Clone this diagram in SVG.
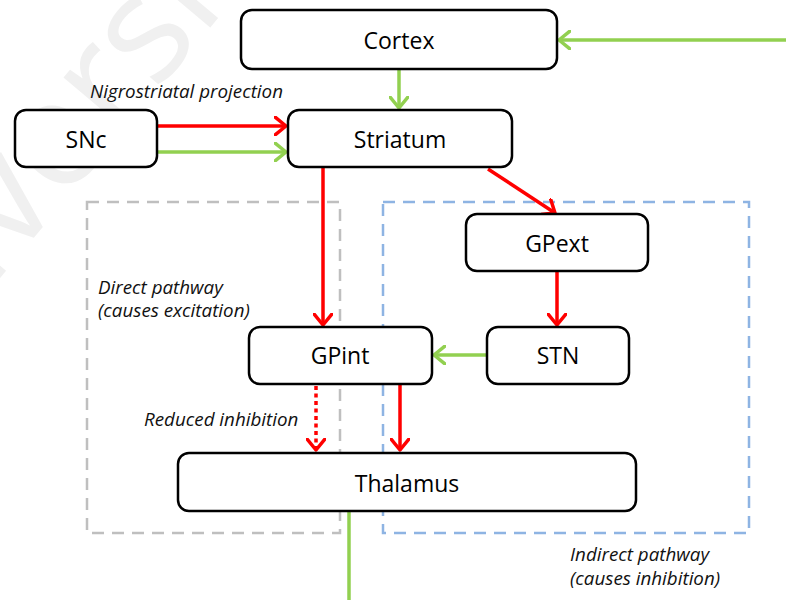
<svg xmlns="http://www.w3.org/2000/svg" width="786" height="600" viewBox="0 0 786 600">
<style>
.node rect{fill:#fff;stroke:#000;stroke-width:2.5}
.node text{font-family:"Open Sans","Noto Sans",sans-serif;font-size:23px;text-anchor:middle;fill:#000}
.lbl{font-family:"Open Sans","Noto Sans",sans-serif;font-size:18.8px;font-style:italic;fill:#111}
.r{stroke:#ff0000;stroke-width:3.5;fill:none}
.g{stroke:#92d050;stroke-width:3.5;fill:none}
.box{fill:none;stroke-width:2.5;stroke-dasharray:12 8}
</style>
<defs>
<marker id="ar" viewBox="0 0 14 20" refX="12" refY="10" markerWidth="14" markerHeight="20" markerUnits="userSpaceOnUse" orient="auto">
<path d="M1,1 L12,10 L1,19" fill="none" stroke="#ff0000" stroke-width="3.5" stroke-linecap="round" stroke-linejoin="round"/>
</marker>
<marker id="ag" viewBox="0 0 14 20" refX="12" refY="10" markerWidth="14" markerHeight="20" markerUnits="userSpaceOnUse" orient="auto">
<path d="M1,1 L12,10 L1,19" fill="none" stroke="#92d050" stroke-width="3.5" stroke-linecap="round" stroke-linejoin="round"/>
</marker>
</defs>
<rect width="786" height="600" fill="#fff"/>
<text x="-10" y="290" transform="rotate(-50 -10 290)" font-family="'Open Sans',sans-serif" font-size="150" fill="#f0f0f0">iversi</text>
<g id="regions">
<rect class="box" x="87" y="202" width="253" height="331" stroke="#bfbfbf"/>
<rect class="box" x="383" y="202" width="366" height="331" stroke="#8eb4e3"/>
</g>
<g id="connectors">
<line class="g" x1="786" y1="40" x2="559" y2="40" marker-end="url(#ag)"/>
<line class="g" x1="399" y1="69" x2="399" y2="108" marker-end="url(#ag)"/>
<line class="r" x1="158" y1="126" x2="286" y2="126" marker-end="url(#ar)"/>
<line class="g" x1="158" y1="152" x2="286" y2="152" marker-end="url(#ag)"/>
<line class="r" x1="323" y1="168" x2="323" y2="325" marker-end="url(#ar)"/>
<line class="r" x1="488" y1="169" x2="555" y2="213" marker-end="url(#ar)"/>
<line class="r" x1="557" y1="272" x2="557" y2="325" marker-end="url(#ar)"/>
<line class="g" x1="487" y1="355" x2="434" y2="355" marker-end="url(#ag)"/>
<line class="r" x1="316" y1="386" x2="316" y2="450" stroke-dasharray="4 3.5" marker-end="url(#ar)"/>
<line class="r" x1="400" y1="385" x2="400" y2="450" marker-end="url(#ar)"/>
<line class="g" x1="349" y1="512" x2="349" y2="600"/>
</g>
<g id="cortex" class="node"><rect x="241" y="10" width="316" height="59" rx="11"/><text x="399" y="49">Cortex</text></g>
<g id="snc" class="node"><rect x="15" y="110" width="142" height="57" rx="11"/><text x="86" y="148">SNc</text></g>
<g id="striatum" class="node"><rect x="288" y="110" width="224" height="57" rx="11"/><text x="400" y="148">Striatum</text></g>
<g id="gpext" class="node"><rect x="466" y="214" width="182" height="57" rx="11"/><text x="557" y="252">GPext</text></g>
<g id="gpint" class="node"><rect x="249" y="327" width="183" height="57" rx="11"/><text x="340" y="364">GPint</text></g>
<g id="stn" class="node"><rect x="487" y="327" width="142" height="57" rx="11"/><text x="558" y="364">STN</text></g>
<g id="thalamus" class="node"><rect x="178" y="453" width="458" height="58" rx="11"/><text x="407" y="492">Thalamus</text></g>
<g id="labels">
<text class="lbl" x="90" y="98">Nigrostriatal projection</text>
<text class="lbl" x="98" y="294">Direct pathway</text>
<text class="lbl" x="98" y="317">(causes excitation)</text>
<text class="lbl" x="144" y="426">Reduced inhibition</text>
<text class="lbl" x="570" y="561">Indirect pathway</text>
<text class="lbl" x="570" y="585">(causes inhibition)</text>
</g>
</svg>
